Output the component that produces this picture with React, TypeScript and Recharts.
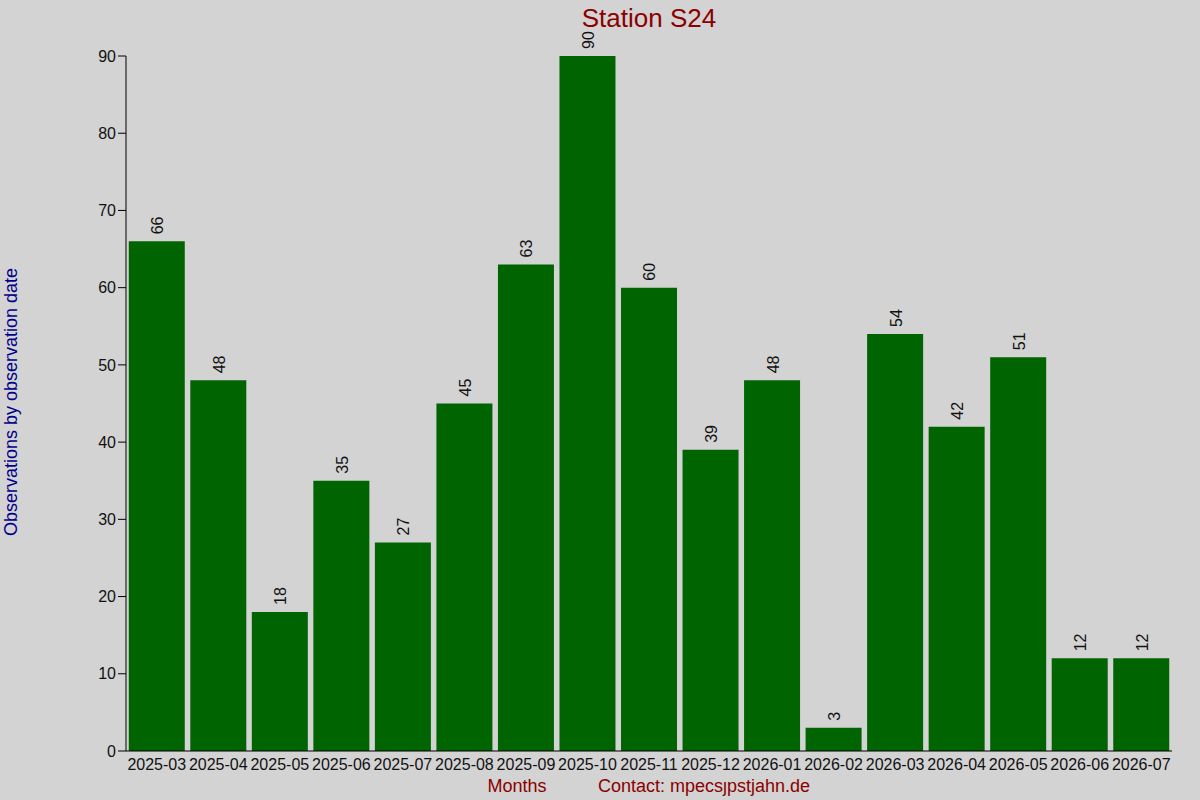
import React from "react";
import { BarChart, Bar, XAxis, YAxis, LabelList } from "recharts";

const months = [
  "2025-03", "2025-04", "2025-05", "2025-06", "2025-07", "2025-08", "2025-09", "2025-10", "2025-11",
  "2025-12", "2026-01", "2026-02", "2026-03", "2026-04", "2026-05", "2026-06", "2026-07",
];
const counts = [66, 48, 18, 35, 27, 45, 63, 90, 60, 39, 48, 3, 54, 42, 51, 12, 12];
const yTicks = [0, 10, 20, 30, 40, 50, 60, 70, 80, 90];

const data = months.map((m, i) => ({ month: m, count: counts[i] }));

const FONT = "'Liberation Sans', Arial, sans-serif";

const ValueLabel = (props: any) => {
  const { x, y, width, value } = props;
  const cx = x + width / 2 + 1;
  const ty = y - 7;
  return (
    <text
      x={cx}
      y={ty}
      transform={`rotate(-90, ${cx}, ${ty})`}
      textAnchor="start"
      dominantBaseline="central"
      fontSize={16}
      fontFamily={FONT}
      fill="#111"
    >
      {value}
    </text>
  );
};

export default function App() {
  return (
    <div style={{ position: "absolute", left: 0, top: 0, width: 1200, height: 800, background: "#d3d3d3" }}>
      <BarChart
        width={1200}
        height={800}
        data={data}
        margin={{ top: 55, right: 28, bottom: 19, left: 66 }}
        barCategoryGap="4.5%"
        style={{ fontFamily: FONT }}
      >
        <XAxis
          dataKey="month"
          axisLine={{ stroke: "#000", strokeWidth: 1 }}
          tickLine={false}
          tickSize={6}
          height={30}
          interval={0}
          tick={{ fill: "#111", fontSize: 16, fontFamily: FONT }}
        />
        <XAxis
          xAxisId="top"
          dataKey="month"
          orientation="top"
          height={1}
          axisLine={false}
          tick={false}
          tickSize={1}
          tickLine={{ stroke: "#000" }}
        />
        <YAxis
          domain={[0, 90]}
          ticks={yTicks}
          width={60}
          tickSize={8}
          axisLine={{ stroke: "#000" }}
          tickLine={{ stroke: "#000" }}
          tick={{ fill: "#111", fontSize: 16, fontFamily: FONT }}
        />
        <Bar dataKey="count" fill="#006400" isAnimationActive={false}>
          <LabelList dataKey="count" content={ValueLabel} />
        </Bar>
        <text x={649} y={27} textAnchor="middle" fontSize={26} fill="#8b0000" fontFamily={FONT}>
          Station S24
        </text>
        <text
          x={11}
          y={402}
          transform="rotate(-90, 11, 402)"
          textAnchor="middle"
          dominantBaseline="central"
          fontSize={18}
          fill="#00008b"
          fontFamily={FONT}
        >
          Observations by observation date
        </text>
        <text x={517} y={792} textAnchor="middle" fontSize={18} fill="#8b0000" fontFamily={FONT}>
          Months
        </text>
        <text x={598} y={792} textAnchor="start" fontSize={18} fill="#8b0000" fontFamily={FONT}>
          Contact: mpecsȷpstjahn.de
        </text>
      </BarChart>
    </div>
  );
}
